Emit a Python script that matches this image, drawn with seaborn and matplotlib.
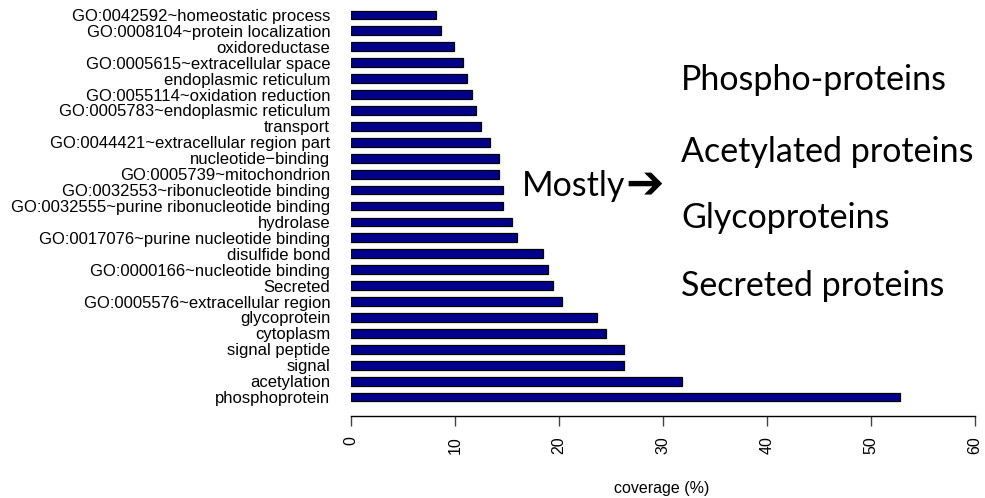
import matplotlib
matplotlib.use("Agg")
import matplotlib.pyplot as plt
import seaborn as sns
import pandas as pd

# GO / keyword terms, listed top to bottom
terms = [
    "GO:0042592~homeostatic process",
    "GO:0008104~protein localization",
    "oxidoreductase",
    "GO:0005615~extracellular space",
    "endoplasmic reticulum",
    "GO:0055114~oxidation reduction",
    "GO:0005783~endoplasmic reticulum",
    "transport",
    "GO:0044421~extracellular region part",
    "nucleotide\u2212binding",
    "GO:0005739~mitochondrion",
    "GO:0032553~ribonucleotide binding",
    "GO:0032555~purine ribonucleotide binding",
    "hydrolase",
    "GO:0017076~purine nucleotide binding",
    "disulfide bond",
    "GO:0000166~nucleotide binding",
    "Secreted",
    "GO:0005576~extracellular region",
    "glycoprotein",
    "cytoplasm",
    "signal peptide",
    "signal",
    "acetylation",
    "phosphoprotein",
]
coverage = [
    8.2, 8.65, 9.9, 10.75, 11.2, 11.6, 12.05, 12.5, 13.35, 14.2,
    14.2, 14.6, 14.6, 15.5, 15.95, 18.5, 18.95, 19.4, 20.25, 23.7,
    24.5, 26.25, 26.25, 31.85, 52.8,
]
x_ticks = [0, 10, 20, 30, 40, 50, 60]
highlights = ["Phospho-proteins", "Acetylated proteins", "Glycoproteins", "Secreted proteins"]

df = pd.DataFrame({"term": terms, "coverage": coverage})

sns.set_theme(style="white")
plt.rcParams["font.family"] = ["Liberation Sans", "DejaVu Sans"]
for key in ("text.color", "axes.labelcolor", "xtick.labelcolor", "ytick.labelcolor"):
    plt.rcParams[key] = "black"

W, H = 985, 498
fig = plt.figure(figsize=(W / 100, H / 100), dpi=100)
ax = fig.add_axes([351 / W, (H - 416) / H, 624 / W, 414 / H])

sns.barplot(data=df, x="coverage", y="term", orient="h", order=terms,
            color="#00008B", edgecolor="black", linewidth=0.9,
            width=0.55, saturation=1, ax=ax)

ax.set_xlim(0, 60)
ax.set_ylim(len(terms) - 1 + 1.19, -0.81)
ax.set_xticks(x_ticks)
ax.set_xticklabels([str(t) for t in x_ticks], rotation=90, fontsize=11.5)
ax.tick_params(axis="x", direction="out", length=7.5, width=1, color="#444444",
               pad=7, bottom=True, labelcolor="black")
ax.tick_params(axis="y", length=0, pad=15, labelsize=12, labelcolor="black")
for s in ("top", "right", "left"):
    ax.spines[s].set_visible(False)
ax.spines["bottom"].set_bounds(0, 60)
ax.spines["bottom"].set_color("black")
ax.spines["bottom"].set_linewidth(1)
ax.set_ylabel("")
ax.set_xlabel("")
ax.grid(False)

fig.text(662 / W, 1 - 488 / H, "coverage (%)", ha="center", va="center",
         fontsize=11.5, color="black")

big = ["Lato", "DejaVu Sans"]
fig.text(522 / W, 1 - 186 / H, "Mostly", ha="left", va="center",
         fontsize=24.5, family=big, color="black")
fig.text(625 / W, 1 - 185 / H, "\u2794", ha="left", va="center",
         fontsize=33, family=["DejaVu Sans"], fontweight="bold", color="black")
for label, yp in zip(highlights, [80, 152, 218, 286]):
    fig.text(681 / W, 1 - yp / H, label, ha="left", va="center",
             fontsize=24.5, family=big, color="black")

fig.savefig("out.png", dpi=100, facecolor="white")
